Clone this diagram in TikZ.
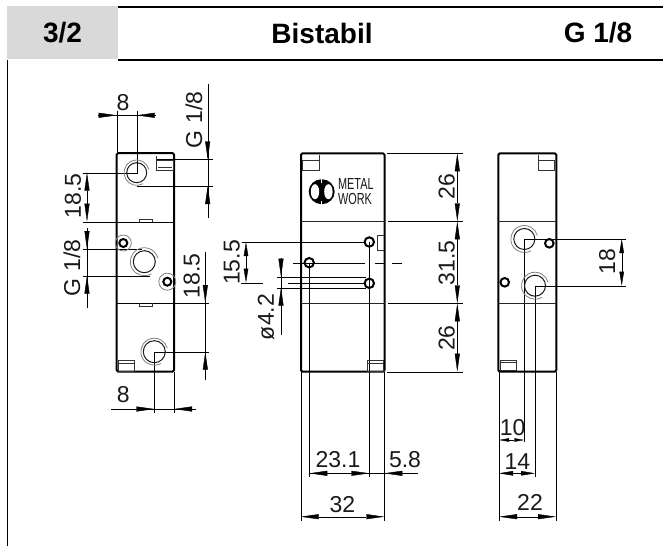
\documentclass[tikz,border=0pt]{standalone}
\usepackage{fontspec}
\setmainfont{Liberation Sans}
\newfontfamily\dimfont{Liberation Sans}
\usetikzlibrary{arrows.meta}
\definecolor{headgray}{RGB}{217,217,217}
\definecolor{thin}{RGB}{60,60,60}
\tikzset{
  x=1pt,y=-1pt,
  headrule/.style={line width=2pt,black},
  body/.style={line width=2pt,black,line join=round},
  edge/.style={line width=0.9pt,black!85},
  extl/.style={line width=0.75pt,thin},
  dimline/.style={line width=0.75pt,thin},
  tipA/.style={{Triangle[length=18pt,width=5pt]}-{Triangle[length=18pt,width=5pt]}},
  tipB/.style={{Triangle[length=14pt,width=4.5pt]}-{Triangle[length=14pt,width=4.5pt]}},
  tipC/.style={{Triangle[length=10pt,width=3.5pt]}-{Triangle[length=10pt,width=3.5pt]}},
  tipEnd/.style={-{Triangle[length=18pt,width=5pt]}},
  headtxt/.style={font=\fontsize{28}{30}\selectfont\bfseries,inner sep=0pt},
  dimtxt/.style={font=\dimfont\fontsize{23}{25}\selectfont,inner sep=0pt,text=black!90},
  logotxt/.style={inner sep=0pt,font=\fontsize{16}{16}\selectfont,anchor=west,xscale=0.68,text=black!90},
  port/.style={line width=2pt,black},
  bore/.style={line width=1pt,black!90},
  halo/.style={line width=0.8pt,black!50},
  slot/.style={line width=0.8pt,black!80},
}
\begin{document}
\begin{tikzpicture}
\useasboundingbox (0,0) rectangle (663,546);
% header
\fill[headgray] (7,6) rectangle (118,59);
\draw[headrule] (118,7) -- (663,7);
\draw[headrule] (118,60) -- (663,60);
\draw[line width=1.5pt] (7.5,60) -- (7.5,546);
\node[headtxt] (tA) at (62.5,33) {3/2};
\node[headtxt] (tB) at (322,33) {Bistabil};
\node[headtxt] (tC) at (598,33) {G 1/8};

% ---------- left view
\draw[extl] (116.7,110.7) -- (116.7,153);
\draw[extl] (136.7,110.7) -- (136.7,172.7) -- (83,172.7);
\draw[extl] (156.7,159.3) -- (212.7,159.3);
\draw[extl] (137,186) -- (212.7,186);
\draw[extl] (83,221.7) -- (174,221.7);
\draw[extl] (83,249) -- (142,249);
\draw[extl] (83,275.7) -- (150,275.7);
\draw[extl] (117,303) -- (209,303);
\draw[extl] (154.3,351.7) -- (209,351.7);
\draw[extl] (154.3,351.7) -- (154.3,413);
\draw[extl] (174,372) -- (174,413);
\draw[body,rounded corners=1.5pt] (116.7,153) rectangle (174,371.7);
\draw[slot] (156.7,160) rectangle (173,170);
\draw[slot] (156.7,156) -- (156.7,160);
\draw[slot] (158,167.5) -- (172,167.5);
\draw[slot] (118,360.7) rectangle (134,371);
\draw[slot] (118,363) -- (134,363);
\draw[slot] (139,222) -- (139,219.5) -- (152,219.5) -- (152,222);
\draw[slot] (139,303) -- (139,306) -- (152,306) -- (152,303);
% left view holes
\draw[bore] (136.7,172.7) circle[radius=10];
\draw[halo] (136.7,172.7) ++(60:12.7) arc[start angle=60,end angle=345,radius=12.7];
\draw[port] (123.3,243) circle[radius=4];
\draw[halo] (123.3,243) circle[radius=8];
\draw[bore] (144.3,261.7) circle[radius=11];
\draw[halo] (144.3,261.7) ++(60:14) arc[start angle=60,end angle=345,radius=14];
\draw[port] (167.3,281.7) circle[radius=4];
\draw[halo] (167.3,281.7) circle[radius=8.5];
\draw[bore] (154.3,351.7) circle[radius=11];
\draw[halo] (154.3,351.7) ++(60:13.5) arc[start angle=60,end angle=345,radius=13.5];
% left view dims
\draw[dimline] (98,115.3) -- (155.7,115.3);
\draw[tipEnd,dimline] (98,115.3) -- (116.7,115.3);
\draw[tipEnd,dimline] (155.7,115.3) -- (136.7,115.3);
\node[dimtxt] (d8a) at (123,102.5) {8};
\draw[dimline] (207.7,84) -- (207.7,218);
\draw[tipEnd,dimline] (207.7,141) -- (207.7,159.3);
\draw[tipEnd,dimline] (207.7,204.5) -- (207.7,186);
\node[dimtxt,rotate=90] (g1) at (194,120) {G\hspace{7pt}1/8};
\draw[tipA,dimline] (87,172.7) -- (87,221.7);
\node[dimtxt,rotate=90] (d185a) at (73,196) {18.5};
\draw[dimline] (87,228) -- (87,308);
\draw[tipEnd,dimline] (87,229) -- (87,249);
\draw[tipEnd,dimline] (87,294) -- (87,275.7);
\node[dimtxt,rotate=90] (g2) at (72,268) {G\hspace{7pt}1/8};
\draw[dimline] (205.3,252) -- (205.3,380);
\draw[tipEnd,dimline] (205.3,285) -- (205.3,303);
\draw[tipEnd,dimline] (205.3,370) -- (205.3,351.7);
\node[dimtxt,rotate=90] (d185b) at (191.7,276) {18.5};
\draw[dimline] (111,409) -- (196,409);
\draw[tipEnd,dimline] (135,409) -- (154.3,409);
\draw[tipEnd,dimline] (193,409) -- (174,409);
\node[dimtxt] (d8b) at (123.3,395) {8};

% ---------- middle view
\draw[extl] (387,153.3) -- (462.7,153.3);
\draw[extl] (388,221.3) -- (462.7,221.3);
\draw[extl] (388,303.3) -- (462.7,303.3);
\draw[extl] (387,371.7) -- (462.7,371.7);
\draw[extl] (241.7,242) -- (369.3,242);
\draw[extl] (241,282.7) -- (263,282.7);
\draw[extl] (288,282.7) -- (369.3,282.7);
\draw[extl] (276.7,276.7) -- (366,276.7);
\draw[extl] (276.7,287.7) -- (366,287.7);
\draw[extl] (293,262.7) -- (365,262.7);
\draw[extl] (375,262.7) -- (385,262.7);
\draw[extl] (392,262.7) -- (401.7,262.7);
\draw[extl] (309.3,262.7) -- (309.3,476.7);
\draw[extl] (369.3,242) -- (369.3,476.7);
\draw[extl] (300.7,372) -- (300.7,520.7);
\draw[extl] (384.3,372) -- (384.3,520.7);
\draw[body,rounded corners=1.5pt] (301,153.3) rectangle (384.5,371.7);
\draw[edge] (301,221.3) -- (384.5,221.3);
\draw[edge] (301,303.3) -- (384.5,303.3);
\draw[slot] (302.7,160) rectangle (319,170.7);
\draw[slot] (319,155) -- (319,160);
\draw[slot] (367,360.5) rectangle (383.5,371);
\draw[slot] (367,363) -- (383.5,363);
\draw[slot] (384,235) -- (377.7,235) -- (377.7,250.7) -- (384,250.7);
% logo
\fill[black] (321.7,191.7) circle[x radius=13,y radius=12.5];
\fill[white] (315,191.7) circle[x radius=4.2,y radius=7.5];
\fill[white] (328.4,191.7) circle[x radius=4.2,y radius=7.5];
\fill[white] (321.1,179) rectangle (322.3,182.5);
\fill[white] (321.1,201) rectangle (322.3,204.5);
\node[logotxt] (mw1) at (338,183.5) {METAL};
\node[logotxt] (mw2) at (338,199) {WORK};
% middle holes
\draw[port,fill=white] (369.3,242) circle[radius=4.7];
\draw[port,fill=white] (309.2,262.7) circle[radius=4.7];
\draw[port,fill=white] (369.3,283.3) circle[radius=4.7];
\draw[extl] (369.3,242) -- (369.3,288);
\draw[extl] (309.3,262.7) -- (309.3,268);
\draw[extl] (364,262.7) -- (304,262.7);
% middle dims
\draw[tipA,dimline] (457.3,153.3) -- (457.3,221.3);
\draw[tipA,dimline] (457.3,221.3) -- (457.3,303.3);
\draw[tipA,dimline] (457.3,303.3) -- (457.3,371.7);
\node[dimtxt,rotate=90] (d26a) at (446.7,186.7) {26};
\node[dimtxt,rotate=90] (d315) at (446.7,262.7) {31.5};
\node[dimtxt,rotate=90] (d26b) at (446.7,338) {26};
\draw[tipB,dimline] (246,242) -- (246,282.7);
\node[dimtxt,rotate=90] (d155) at (231.7,262.5) {15.5};
\draw[dimline] (281,258) -- (281,335);
\draw[tipEnd,dimline] (281,258) -- (281,276.7);
\draw[tipEnd,dimline] (281,306) -- (281,287.7);
\node[dimtxt,rotate=90] (d42) at (266,317) {ø4.2};
\draw[dimline] (309.3,473.3) -- (418,473.3);
\draw[tipEnd,dimline] (327,473.3) -- (309.3,473.3);
\draw[tipEnd,dimline] (351,473.3) -- (369.3,473.3);
\draw[tipEnd,dimline] (402,473.3) -- (384.3,473.3);
\node[dimtxt] (d231) at (338,460) {23.1};
\node[dimtxt] (d58) at (405,460) {5.8};
\draw[tipA,dimline] (300.7,516.7) -- (384.3,516.7);
\node[dimtxt] (d32) at (342.3,504.3) {32};

% ---------- right view
\draw[extl] (524.3,239) -- (626,239);
\draw[extl] (535,285.7) -- (626,285.7);
\draw[extl] (524.3,239) -- (524.3,441.7);
\draw[extl] (535,285.7) -- (535,476.7);
\draw[extl] (499,372) -- (499,520.7);
\draw[extl] (556,372) -- (556,520.7);
\draw[body,rounded corners=1.5pt] (498.3,153.3) rectangle (556.3,371.7);
\draw[edge] (498.3,221.3) -- (556.3,221.3);
\draw[edge] (498.3,303.3) -- (556.3,303.3);
\draw[slot] (538.3,160) rectangle (554.7,170.7);
\draw[slot] (538.3,155) -- (538.3,160);
\draw[slot] (500,360.5) rectangle (516,370.5);
\draw[slot] (500,362.5) -- (516,362.5);
\draw[bore] (524.3,239) circle[radius=10.5];
\draw[halo] (524.3,239) ++(60:13.5) arc[start angle=60,end angle=345,radius=13.5];
\draw[bore] (535,285.7) circle[radius=10.5];
\draw[halo] (535,285.7) ++(60:13.5) arc[start angle=60,end angle=345,radius=13.5];
\draw[port,fill=white] (549.3,243.3) circle[radius=4.3];
\draw[port,fill=white] (504.7,282.3) circle[radius=4.3];
\draw[tipB,dimline] (621.7,239) -- (621.7,285.7);
\node[dimtxt,rotate=90] (d18) at (607.3,261.7) {18};
\draw[tipC,dimline] (499,440) -- (524.3,440);
\node[dimtxt] (d10) at (512.7,428) {10};
\draw[tipB,dimline] (499,473.3) -- (535,473.3);
\node[dimtxt] (d14) at (517.3,461.7) {14};
\draw[tipA,dimline] (499,516.7) -- (556,516.7);
\node[dimtxt] (d22) at (530,502.7) {22};
\end{tikzpicture}
\end{document}
